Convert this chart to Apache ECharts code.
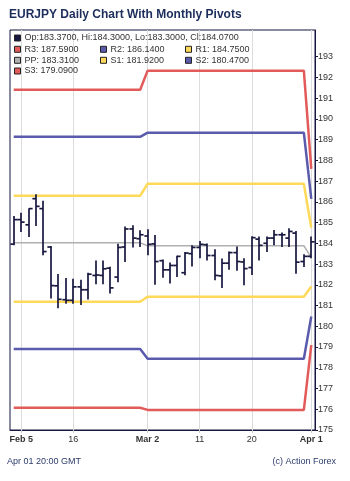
<!DOCTYPE html>
<html><head><meta charset="utf-8">
<script src="https://cdn.jsdelivr.net/npm/echarts@6/dist/echarts.min.js"></script>
<style>html,body{margin:0;padding:0;background:#fff;}#c{width:350px;height:481px;}</style>
</head><body><div id="c"></div>
<script>
const dates = ['Feb 4','Feb 5','Feb 6','Feb 9','Feb 10','Feb 11','Feb 12','Feb 13','Feb 16','Feb 17','Feb 18','Feb 19','Feb 20','Feb 23','Feb 24','Feb 25','Feb 26','Feb 27',
  'Mar 2','Mar 3','Mar 4','Mar 5','Mar 6','Mar 9','Mar 10','Mar 11','Mar 12','Mar 13','Mar 16','Mar 17','Mar 18','Mar 19','Mar 20','Mar 23','Mar 24','Mar 25','Mar 26','Mar 27','Mar 30','Mar 31','Apr 1'];
const open  = [183.96,185.14,184.89,186.15,185.67,183.82,181.95,181.28,181.25,181.90,181.76,182.45,182.45,182.80,182.37,183.82,184.69,184.22,
  184.35,183.97,183.16,182.72,182.93,182.58,183.50,183.80,183.93,183.41,182.43,183.04,183.55,183.10,182.83,184.20,184.00,184.25,184.41,184.25,184.49,183.12,183.37];
const high  = [185.29,185.45,185.67,186.34,186.02,183.85,182.50,182.30,182.27,182.22,182.56,183.14,183.14,182.85,183.95,184.78,184.85,184.60,
  184.65,184.38,183.20,183.05,183.37,183.56,183.88,184.09,183.96,183.69,183.24,183.58,183.82,183.25,184.32,184.30,184.30,184.62,184.49,184.70,184.57,183.45,184.30];
const low   = [183.93,184.57,184.33,184.86,183.45,181.36,180.89,181.11,181.11,181.05,181.31,182.05,182.05,181.60,182.15,183.12,183.82,183.85,
  183.45,182.03,182.36,182.08,182.40,182.48,182.90,183.30,183.20,182.24,181.87,182.75,182.70,182.00,182.50,183.20,183.60,183.93,183.85,183.85,182.56,182.88,183.30];
const close = [185.14,185.02,185.67,185.78,183.60,181.96,181.30,181.25,181.90,181.76,182.51,182.47,182.77,181.85,183.80,184.69,184.25,184.41,
  183.95,183.12,182.72,182.93,183.37,183.53,183.80,183.95,183.41,182.45,183.04,183.55,183.12,182.78,184.27,183.90,184.25,184.41,184.41,184.57,183.09,183.37,184.07];

// Monthly pivot levels (one value per month)
const pivotMonths = ['Feb','Mar','Apr'];
const r3Monthly = [191.40,192.32,187.59];
const r2Monthly = [189.13,189.33,186.14];
const r1Monthly = [186.29,186.87,184.75];
const ppMonthly = [184.02,183.88,183.31];
const s1Monthly = [181.18,181.42,181.92];
const s2Monthly = [178.91,178.43,180.47];
const s3Monthly = [176.07,175.97,179.09];

const tickDates  = ['Feb 5','Feb 16','Mar 2','Mar 11','Mar 20','Apr 1'];
const tickLabels = ['Feb 5','16','Mar 2','11','20','Apr 1'];
const boldLabels = ['Feb 5','Mar 2','Apr 1'];
const yTicks = [175,176,177,178,179,180,181,182,183,184,185,186,187,188,189,190,191,192,193];

const monthIdx = d => pivotMonths.indexOf(d.split(' ')[0]);
const daily = arr => dates.map((d,i) => [i, arr[monthIdx(d)]]);
const tickIdx = tickDates.map(d => dates.indexOf(d));

const pivots = [
  {name:'R3', m:r3Monthly, color:'#e35a5a', w:2.5},
  {name:'R2', m:r2Monthly, color:'#5b5bad', w:2.5},
  {name:'R1', m:r1Monthly, color:'#ffd95a', w:2.5},
  {name:'PP', m:ppMonthly, color:'#b0b0b0', w:1.5},
  {name:'S1', m:s1Monthly, color:'#ffd95a', w:2.5},
  {name:'S2', m:s2Monthly, color:'#5b5bad', w:2.5},
  {name:'S3', m:s3Monthly, color:'#e35a5a', w:2.5}
];
const legendPos = {OHLC:[14,0], R3:[14,1], R2:[100,1], R1:[185,1], PP:[14,2], S1:[100,2], S2:[185,2], S3:[14,3]};
const rowTop = [33.5, 44.8, 55.8, 66.5];

const last = dates.length - 1;
const fmt = v => v.toFixed(4);
const legendText = name => {
  if (name === 'OHLC') return 'Op:' + fmt(open[last]) + ', Hi:' + fmt(high[last]) + ', Lo:' + fmt(low[last]) + ', Cl:' + fmt(close[last]);
  const p = pivots.find(q => q.name === name);
  return name + ': ' + fmt(p.m[p.m.length - 1]);
};

const NAVY = '#17173f';
const FONT = 'Liberation Sans, Arial, sans-serif';
const legends = Object.keys(legendPos).map(n => ({
  data:[n], left: legendPos[n][0], top: rowTop[legendPos[n][1]], padding:0,
  icon:'rect', itemWidth:6, itemHeight:6, selectedMode:false,
  itemStyle:{borderColor:'#222', borderWidth:1},
  textStyle:{fontSize:9, color:'#333', fontFamily:FONT, padding:[0,0,0,-1]},
  formatter: legendText
}));

const series = pivots.map(p => ({
  name:p.name, type:'line', data: daily(p.m), symbol:'none', silent:true,
  lineStyle:{color:p.color, width:p.w}, itemStyle:{color:p.color},
  z: p.name === 'PP' ? 2 : 3, animation:false
}));
series.push({
  name:'OHLC', type:'custom', z:5, animation:false,
  itemStyle:{color:NAVY},
  data: dates.map((d,i) => [i, open[i], high[i], low[i], close[i]]),
  encode:{x:0, y:[1,2,3,4]},
  renderItem: function(params, api){
    const x = api.value(0);
    const pO = api.coord([x, api.value(1)]);
    const pH = api.coord([x, api.value(2)]);
    const pL = api.coord([x, api.value(3)]);
    const pC = api.coord([x, api.value(4)]);
    const w = 3.6;
    const st = {stroke: NAVY, lineWidth: 1.7};
    const cx = Math.round(pH[0]);
    return {type:'group', children:[
      {type:'line', shape:{x1:cx, y1:pH[1]-0.5, x2:cx, y2:pL[1]+0.5}, style:st},
      {type:'line', shape:{x1:cx-w, y1:pO[1], x2:cx, y2:pO[1]}, style:st},
      {type:'line', shape:{x1:cx, y1:pC[1], x2:cx+w, y2:pC[1]}, style:st}
    ]};
  }
});

const chart = echarts.init(document.getElementById('c'), null, {renderer:'canvas'});
chart.setOption({
  backgroundColor:'#fff',
  animation:false,
  textStyle:{fontFamily:FONT},
  title:[
    {text:'EURJPY Daily Chart With Monthly Pivots', left:9, top:8.5, padding:0,
     textStyle:{fontSize:12, fontWeight:'bold', color:'#1c2d5c', fontFamily:FONT}},
    {text:'Apr 01 20:00 GMT', left:7, top:457.5, padding:0,
     textStyle:{fontSize:9, fontWeight:'normal', color:'#2b3b6b', fontFamily:FONT}},
    {text:'(c) Action Forex', right:14, top:457.5, padding:0,
     textStyle:{fontSize:9, fontWeight:'normal', color:'#2b3b6b', fontFamily:FONT}}
  ],
  legend: legends,
  grid:{left:10, right:35, top:30, bottom:51, show:true, borderColor:NAVY, borderWidth:1, backgroundColor:'#fff'},
  xAxis:{
    type:'value', min:-0.5, max:dates.length - 0.5,
    axisLine:{show:true, onZero:false, lineStyle:{color:NAVY, width:1}},
    axisTick:{show:true, customValues:tickIdx, length:3, lineStyle:{color:'#cfcfcf'}},
    splitLine:{show:true, lineStyle:{color:'#dcdcdc', width:1}},
    axisLabel:{
      customValues:tickIdx, margin:5, fontSize:9, color:'#333',
      formatter: v => { const k = tickIdx.indexOf(Math.round(v)); if (k < 0) return ''; const t = tickLabels[k];
        return boldLabels.indexOf(tickDates[k]) >= 0 ? '{b|' + t + '}' : t; },
      rich:{b:{fontWeight:'bold', fontSize:9, color:'#333'}}
    }
  },
  yAxis:{
    type:'value', position:'right', min:175, max:194.28, scale:true,
    axisLine:{show:true, onZero:false, lineStyle:{color:NAVY, width:1}},
    axisTick:{show:true, customValues:yTicks, length:3, lineStyle:{color:NAVY}},
    axisLabel:{customValues:yTicks, margin:3, fontSize:9, color:'#333'},
    splitLine:{show:false}
  },
  series: series
});
</script></body></html>
